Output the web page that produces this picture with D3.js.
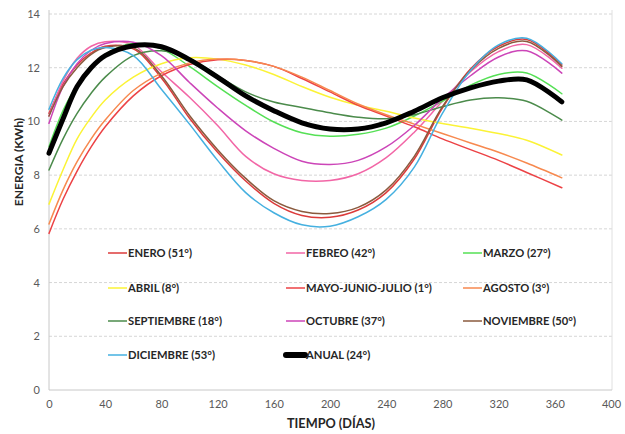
<!DOCTYPE html>
<html>
<head>
<meta charset="utf-8">
<script src="https://cdnjs.cloudflare.com/ajax/libs/d3/7.8.5/d3.min.js"></script>
<style>
body { margin: 0; background: #fff; }
svg text { font-family: Lato, "Open Sans", sans-serif; }
</style>
</head>
<body>
<div id="chart"></div>
<script>
// days sampled along the curves
let days = [0, 10, 20, 30, 40, 60, 80, 100, 120, 140, 160, 180, 200, 220, 240, 260, 280, 300, 320, 340, 365];

// energy (kWh), one array per month
let enero      = [10.3, 11.4, 12.1, 12.55, 12.8, 12.7, 11.62, 10.12, 8.85, 7.78, 6.95, 6.5, 6.43, 6.7, 7.35, 8.6, 10.5, 11.95, 12.8, 13.05, 12.1];
let febreo     = [10.2, 11.5, 12.35, 12.8, 12.97, 12.85, 11.85, 10.9, 9.85, 8.7, 8.05, 7.8, 7.8, 8.05, 8.65, 9.6, 10.75, 11.85, 12.6, 12.86, 11.98];
let marzo      = [9.06, 10.4, 11.35, 12.0, 12.5, 12.9, 12.7, 12.05, 11.3, 10.6, 9.98, 9.58, 9.45, 9.52, 9.75, 10.2, 10.75, 11.35, 11.75, 11.8, 11.03];
let abril      = [6.92, 8.2, 9.35, 10.15, 10.8, 11.65, 12.15, 12.37, 12.32, 12.1, 11.75, 11.3, 10.9, 10.6, 10.38, 10.13, 9.92, 9.75, 9.55, 9.3, 8.75];
let mayoJulio  = [5.83, 7.1, 8.15, 9.05, 9.8, 10.95, 11.7, 12.12, 12.3, 12.27, 12.05, 11.6, 11.1, 10.6, 10.2, 9.8, 9.35, 8.95, 8.55, 8.1, 7.53];
let agosto     = [6.18, 7.45, 8.5, 9.35, 10.05, 11.15, 11.8, 12.18, 12.32, 12.27, 12.05, 11.65, 11.15, 10.65, 10.25, 9.9, 9.55, 9.2, 8.85, 8.45, 7.9];
let septiembre = [8.19, 9.35, 10.3, 11.05, 11.65, 12.45, 12.63, 12.35, 11.7, 11.1, 10.72, 10.52, 10.32, 10.16, 10.1, 10.25, 10.55, 10.8, 10.88, 10.75, 10.05];
let octubre    = [9.93, 11.3, 12.15, 12.65, 12.9, 12.95, 12.45, 11.45, 10.5, 9.65, 9.0, 8.52, 8.4, 8.55, 9.05, 9.85, 10.85, 11.7, 12.4, 12.63, 11.8];
let noviembre  = [10.2, 11.3, 12.0, 12.5, 12.75, 12.75, 11.7, 10.22, 8.95, 7.88, 7.05, 6.65, 6.57, 6.8, 7.45, 8.7, 10.55, 11.9, 12.72, 12.98, 12.05];
let diciembre  = [10.45, 11.6, 12.3, 12.65, 12.75, 12.45, 11.2, 9.9, 8.55, 7.35, 6.6, 6.15, 6.1, 6.45, 7.1, 8.3, 10.3, 11.9, 12.85, 13.1, 12.15];
let anual      = [8.82, 10.1, 11.3, 12.0, 12.45, 12.82, 12.78, 12.3, 11.65, 10.95, 10.4, 9.95, 9.72, 9.72, 9.95, 10.38, 10.88, 11.25, 11.5, 11.55, 10.73];

let yTicks = [0, 2, 4, 6, 8, 10, 12, 14];
let xTicks = [0, 40, 80, 120, 160, 200, 240, 280, 320, 360, 400];

let series = [
	{ name: "ENERO (51°)", values: enero, color: "#dc3b3b", w: 1.5 },
	{ name: "FEBREO (42°)", values: febreo, color: "#f266a6", w: 1.5 },
	{ name: "MARZO (27°)", values: marzo, color: "#55e055", w: 1.5 },
	{ name: "ABRIL (8°)", values: abril, color: "#fbf336", w: 1.5 },
	{ name: "MAYO-JUNIO-JULIO (1°)", values: mayoJulio, color: "#ec4245", w: 1.5 },
	{ name: "AGOSTO (3°)", values: agosto, color: "#f7894f", w: 1.5 },
	{ name: "SEPTIEMBRE (18°)", values: septiembre, color: "#4b8b4b", w: 1.5 },
	{ name: "OCTUBRE (37°)", values: octubre, color: "#cc45b8", w: 1.5 },
	{ name: "NOVIEMBRE (50°)", values: noviembre, color: "#8a5a3e", w: 1.5 },
	{ name: "DICIEMBRE (53°)", values: diciembre, color: "#45b0e0", w: 1.5 },
	{ name: "ANUAL (24°)", values: anual, color: "#000000", w: 5 }
];

let width = 625, height = 434;
let mLeft = 49, mRight = 611, mTop = 14, mBottom = 390;

let svg = d3.select("#chart").append("svg")
	.attr("width", width)
	.attr("height", height);

let x = d3.scaleLinear().domain([0, 400]).range([mLeft, mRight]);
let y = d3.scaleLinear().domain([0, 14]).range([mBottom, mTop]);

// dashed grid
svg.append("g")
	.selectAll("line")
	.data(yTicks.filter(d => d > 0))
	.enter().append("line")
	.attr("x1", mLeft).attr("x2", mRight + 1)
	.attr("y1", d => y(d)).attr("y2", d => y(d))
	.attr("stroke", "#d6d6d6")
	.attr("stroke-dasharray", "3,2");

// frame: left axis, bottom axis, right border
svg.append("line").attr("x1", mLeft).attr("x2", mLeft).attr("y1", 10).attr("y2", mBottom)
	.attr("stroke", "#c8c8c8");
svg.append("line").attr("x1", mRight + 1).attr("x2", mRight + 1).attr("y1", 10).attr("y2", mBottom)
	.attr("stroke", "#e0e0e0");
svg.append("line").attr("x1", mLeft).attr("x2", mRight + 1).attr("y1", mBottom).attr("y2", mBottom)
	.attr("stroke", "#c8c8c8");

let yAxis = svg.append("g")
	.attr("transform", "translate(" + mLeft + ",0)")
	.call(d3.axisLeft(y).tickValues(yTicks).tickSize(0).tickPadding(9));
yAxis.select(".domain").remove();

let xAxis = svg.append("g")
	.attr("transform", "translate(0," + mBottom + ")")
	.call(d3.axisBottom(x).tickValues(xTicks).tickSize(0).tickPadding(10));
xAxis.select(".domain").remove();

svg.selectAll(".tick text")
	.attr("fill", "#595959")
	.style("font-size", "11px");

// axis titles
svg.append("text")
	.attr("transform", "translate(23,162) rotate(-90)")
	.attr("text-anchor", "middle")
	.attr("fill", "#262626")
	.style("font-size", "12.1px")
	.style("font-weight", "bold")
	.text("ENERGIA (KWh)");

svg.append("text")
	.attr("x", 331)
	.attr("y", 428)
	.attr("text-anchor", "middle")
	.attr("fill", "#262626")
	.style("font-size", "12.7px")
	.style("font-weight", "bold")
	.text("TIEMPO (DÍAS)");

// curves
let line = d3.line()
	.x((d, i) => x(days[i]))
	.y(d => y(d))
	.curve(d3.curveCatmullRom.alpha(0.5));

svg.append("g")
	.selectAll("path")
	.data(series)
	.enter().append("path")
	.attr("d", d => line(d.values))
	.attr("fill", "none")
	.attr("stroke", d => d.color)
	.attr("stroke-width", d => d.w)
	.attr("stroke-linecap", "round");

// legend, 3 columns
let colX = [108, 286, 463];
let rowY = [253, 288, 321, 355];

let legend = svg.append("g")
	.selectAll("g")
	.data(series)
	.enter().append("g")
	.attr("transform", (d, i) => "translate(" + colX[i % 3] + "," + rowY[Math.floor(i / 3)] + ")");

legend.append("line")
	.attr("x1", 0).attr("x2", 19)
	.attr("stroke", d => d.color)
	.attr("stroke-width", d => d.w === 5 ? 6 : 1.5)
	.attr("stroke-linecap", d => d.w === 5 ? "round" : "butt");

legend.append("text")
	.attr("x", 20)
	.attr("dy", "0.36em")
	.attr("fill", "#262626")
	.style("font-size", "11.2px")
	.style("font-weight", "bold")
	.text(d => d.name);
</script>
</body>
</html>
